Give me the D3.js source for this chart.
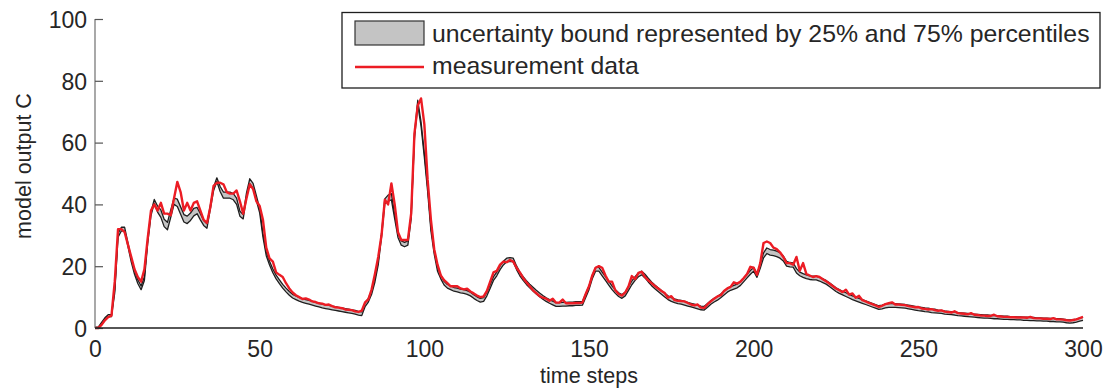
<!DOCTYPE html>
<html>
<head>
<meta charset="utf-8">
<script src="https://cdn.jsdelivr.net/npm/d3@7"></script>
<style>
  html, body { margin: 0; padding: 0; background: #fff; }
  svg { display: block; font-family: "Liberation Sans", Arial, Helvetica, sans-serif; }
</style>
</head>
<body>
<svg id="chart" width="1104" height="389"></svg>
<script>
// 25% percentile of the model output at each time step
const lower = [
  0, 0, 1.2, 2.7, 3.7, 3.7, 11.4, 29.4, 31.4, 31.4,
  26.4, 21.4, 17.4, 14.4, 12.4, 15.4, 27.4, 36.4, 40.4, 37.5,
  35.8, 32.8, 31.8, 35.8, 40, 39.3, 36.8, 34.3, 33.8, 34.8,
  36.3, 37, 35, 33.2, 32.3, 38.4, 44.4, 47.4, 44.2, 42,
  42, 42, 41.5, 40, 36.2, 35.3, 42.3, 46.7, 45.2, 41.2,
  37.3, 29.4, 23.4, 20.4, 17.9, 15.9, 14.4, 12.9, 11.7, 10.6,
  9.7, 9.2, 8.7, 8.3, 8.0, 7.7, 7.4, 7.1, 6.8, 6.5,
  6.3, 6.1, 5.9, 5.7, 5.5, 5.3, 5.1, 4.9, 4.7, 4.5,
  4.2, 4.0, 6.9, 8.4, 10.9, 14.9, 20.4, 29.4, 40.2, 41,
  41.5, 35.3, 29.3, 26.8, 26.3, 26.8, 35.3, 61.3, 72.3, 65.3,
  55.3, 44.3, 31.4, 23.9, 18.4, 15.9, 13.9, 12.9, 12.4, 11.9,
  11.7, 11.4, 11.2, 10.9, 10.4, 9.6, 8.9, 8.4, 8.6, 10.4,
  12.9, 15.4, 16.9, 18.9, 20.4, 21.4, 21.6, 21.4, 18.9, 16.9,
  15.4, 14.1, 13.0, 12.0, 11.0, 10.1, 9.3, 8.6, 8.0, 7.5,
  7.0, 7.0, 7.1, 7.1, 7.2, 7.2, 7.3, 7.3, 7.4, 9.9,
  12.4, 15.9, 18.4, 18.4, 16.9, 15.4, 13.9, 12.4, 11.2, 10.2,
  9.6, 10.4, 12.2, 14.0, 15.4, 16.6, 17.2, 16.2, 14.9, 13.7,
  12.7, 11.8, 10.9, 10.0, 9.2, 8.6, 8.2, 7.9, 7.7, 7.4,
  7.1, 6.8, 6.5, 6.2, 5.9, 5.8, 6.7, 7.7, 8.4, 9.0,
  9.8, 10.7, 11.6, 12.2, 12.6, 13.0, 13.8, 15.0, 16.2, 17.4,
  18.4, 16.4, 19.3, 22.7, 24.1, 23.6, 23.4, 23.1, 22.6, 21.7,
  20.0, 19.8, 19.7, 17.8, 16.9, 16.4, 16.0, 15.7, 15.6, 15.6,
  15.2, 14.7, 14.2, 13.4, 12.6, 11.8, 11.2, 10.7, 10.2, 9.7,
  9.2, 8.8, 8.4, 8.0, 7.6, 7.2, 6.8, 6.4, 6.0, 6.2,
  6.5, 6.7, 6.7, 6.7, 6.6, 6.5, 6.4, 6.2, 6.0, 5.8,
  5.6, 5.5, 5.3, 5.2, 5.0, 4.9, 4.8, 4.7, 4.5, 4.4,
  4.3, 4.2, 4.0, 3.9, 3.8, 3.7, 3.6, 3.5, 3.4, 3.3,
  3.2, 3.2, 3.1, 3.0, 3.0, 2.9, 2.8, 2.8, 2.7, 2.7,
  2.6, 2.6, 2.5, 2.5, 2.4, 2.4, 2.3, 2.3, 2.2, 2.2,
  2.1, 2.1, 2.0, 2.0, 1.9, 1.7, 1.6, 1.7, 1.9, 2.2, 2.5
];

// 75% percentile of the model output at each time step
const upper = [
  0.3, 0.3, 1.8, 3.3, 4.3, 4.3, 12.6, 30.6, 32.6, 32.6,
  27.6, 22.6, 18.6, 15.6, 13.6, 16.6, 28.6, 37.6, 41.6, 39.5,
  38.2, 35.2, 34.2, 38.2, 42, 41.7, 39.2, 36.7, 36.2, 37.2,
  38.7, 39, 37, 34.8, 33.7, 39.6, 45.6, 48.6, 45.8, 44,
  44, 44, 43.5, 42, 37.8, 36.7, 43.7, 48.3, 46.8, 42.8,
  38.7, 30.6, 24.6, 21.6, 19.1, 17.1, 15.6, 14.1, 12.9, 11.8,
  10.9, 10.4, 9.9, 9.5, 9.2, 8.9, 8.6, 8.3, 8.0, 7.7,
  7.5, 7.3, 7.1, 6.9, 6.7, 6.5, 6.3, 6.1, 5.9, 5.7,
  5.4, 5.2, 8.1, 9.6, 12.1, 16.1, 21.6, 30.6, 41.8, 43,
  43.5, 36.7, 30.7, 28.2, 27.7, 28.2, 36.7, 62.7, 73.7, 66.7,
  56.7, 45.7, 32.6, 25.1, 19.6, 17.1, 15.1, 14.1, 13.6, 13.1,
  12.9, 12.6, 12.4, 12.1, 11.6, 10.8, 10.1, 9.6, 9.8, 11.6,
  14.1, 16.6, 18.1, 20.1, 21.6, 22.6, 22.8, 22.6, 20.1, 18.1,
  16.6, 15.3, 14.2, 13.2, 12.2, 11.3, 10.5, 9.8, 9.2, 8.7,
  8.2, 8.2, 8.3, 8.3, 8.4, 8.4, 8.5, 8.5, 8.6, 11.1,
  13.6, 17.1, 19.6, 19.6, 18.1, 16.6, 15.1, 13.6, 12.4, 11.4,
  10.8, 11.6, 13.4, 15.2, 16.6, 17.8, 18.4, 17.4, 16.1, 14.9,
  13.9, 13.0, 12.1, 11.2, 10.4, 9.8, 9.4, 9.1, 8.9, 8.6,
  8.3, 8.0, 7.7, 7.4, 7.1, 7.0, 7.9, 8.9, 9.6, 10.2,
  11.0, 11.9, 12.8, 13.4, 13.8, 14.2, 15.0, 16.2, 17.4, 18.6,
  19.6, 17.6, 20.7, 24.3, 25.9, 25.4, 25.2, 24.9, 24.4, 23.3,
  21.6, 21.2, 21.1, 19.2, 18.1, 17.6, 17.2, 16.9, 16.8, 16.8,
  16.4, 15.9, 15.4, 14.6, 13.8, 13.0, 12.4, 11.9, 11.4, 10.9,
  10.4, 10.0, 9.6, 9.2, 8.8, 8.4, 8.0, 7.6, 7.2, 7.4,
  7.7, 7.9, 7.9, 7.9, 7.8, 7.7, 7.6, 7.4, 7.2, 7.0,
  6.8, 6.7, 6.5, 6.4, 6.2, 6.1, 5.8, 5.7, 5.5, 5.4,
  5.3, 5.2, 5.0, 4.9, 4.8, 4.7, 4.6, 4.5, 4.4, 4.3,
  4.2, 4.2, 4.1, 4.0, 4.0, 3.9, 3.8, 3.8, 3.7, 3.7,
  3.6, 3.6, 3.5, 3.5, 3.4, 3.4, 3.3, 3.3, 3.2, 3.2,
  3.1, 3.1, 3.0, 3.0, 2.9, 2.7, 2.6, 2.7, 2.9, 3.2, 3.5
];

// Observed values at each time step
const measured = [
  0, 0, 1, 2.5, 3.5, 4, 15, 32, 32, 31,
  27, 23, 19, 16.5, 15, 19, 29, 38, 40, 38,
  40.5, 37, 37, 36.5, 42, 47.3, 44, 38, 40.5, 38,
  40.5, 41, 38, 35, 34, 39, 46, 47, 47, 46.5,
  44, 43.5, 43.5, 44.5, 41, 37, 42, 46.5, 45, 41,
  39.5, 35, 26, 22.5, 21.5, 18, 17.2, 16.5, 14.5, 12.8,
  11.5, 10.6, 10, 9.4, 9.6, 9.2, 8.6, 8.4, 8.0, 7.9,
  7.5, 7.6, 7.1, 6.7, 6.6, 6.4, 6.0, 5.9, 5.8, 5.4,
  5.2, 5.6, 8.3, 9.3, 12.5, 17.5, 23, 30, 41.5, 40,
  46.8, 40, 31, 28.5, 28.5, 28.5, 37, 63, 72, 74.3,
  66, 48, 35, 25.5, 20.5, 17, 15.5, 14.5, 13.5, 13.5,
  13.5, 12.8, 12.5, 12.7, 11.8, 11.2, 10.5, 10.0, 10.2, 12,
  15, 18, 18.5, 20.5, 21.5, 21.3, 22, 21.5, 19.5, 18,
  16.2, 14.8, 13.5, 12.2, 11.3, 10.3, 9.8, 9.5, 8.8, 9.5,
  8.2, 8.2, 9.2, 8.0, 8.0, 8.0, 8.1, 8.1, 8.2, 11,
  13.5, 17, 19.5, 20, 19.5, 17, 15, 15, 12.2, 11,
  10.5, 11.5, 13.5, 16.8, 15.8, 17.8, 18.2, 16.5, 15.4, 14.5,
  13.6, 12.8, 12, 11.3, 9.8, 10.3, 9, 8.8, 8.7, 8.6,
  8.1, 7.6, 7.3, 7.6, 6.6, 6.5, 7.7, 8.6, 9.5, 10.2,
  10.6, 12, 12.8, 13.3, 14.8, 14.4, 15, 16.2, 17.5, 19.8,
  19.5, 17.2, 21, 27.5, 28, 27.5, 26, 25.5, 24.5, 23,
  21, 21, 20.5, 23, 18.5, 21, 17.5, 17, 16.5, 16.8,
  16.5, 15.8, 15.1, 14.4, 13.6, 12.8, 12.2, 11.6, 12.4, 10.8,
  11.2, 9.8, 10.4, 9.0, 8.6, 8.1, 7.7, 7.3, 6.8, 7.2,
  7.7, 8.0, 8.3, 7.6, 7.6, 7.5, 7.4, 7.1, 6.9, 6.7,
  6.8, 6.3, 6.2, 6.0, 6.1, 5.8, 5.6, 5.7, 5.3, 5.2,
  5.0, 5.4, 4.8, 4.7, 4.6, 4.4, 4.8, 4.3, 4.2, 4.0,
  4.0, 3.9, 3.9, 4.3, 3.8, 3.7, 3.6, 3.6, 3.5, 3.5,
  3.4, 3.4, 3.4, 3.3, 3.6, 3.2, 3.1, 3.1, 3.0, 3.0,
  2.9, 3.2, 2.8, 2.8, 2.7, 2.5, 2.4, 2.6, 2.8, 3.2, 3.6
];

const xTicks = [0, 50, 100, 150, 200, 250, 300];
const yTicks = [0, 20, 40, 60, 80, 100];
const legendLabels = [
  "uncertainty bound represented by 25% and 75% percentiles",
  "measurement data"
];
const xTitle = "time steps";
const yTitle = "model output C";

const svg = d3.select("#chart");
const textColor = "#262626";

const x = d3.scaleLinear().domain([0, 300]).range([95, 1083]);
const y = d3.scaleLinear().domain([0, 100]).range([328, 19]);

const steps = d3.range(measured.length);

// uncertainty band
const band = d3.area()
  .x(i => x(i))
  .y0(i => y(lower[i]))
  .y1(i => y(upper[i]));

svg.append("path")
  .datum(steps)
  .attr("d", band)
  .attr("fill", "#c4c4c4")
  .attr("stroke", "none");

const edge = arr => d3.line().x(i => x(i)).y(i => y(arr[i]));

[lower, upper].forEach(arr => {
  svg.append("path")
    .datum(steps)
    .attr("d", edge(arr))
    .attr("fill", "none")
    .attr("stroke", "#1e1e1e")
    .attr("stroke-width", 1.3)
    .attr("stroke-linejoin", "round");
});

// measurement line
svg.append("path")
  .datum(steps)
  .attr("d", edge(measured))
  .attr("fill", "none")
  .attr("stroke", "#ec1c24")
  .attr("stroke-width", 2.4)
  .attr("stroke-linejoin", "round");

// y axis
const yAxis = svg.append("g").attr("transform", "translate(95,0)")
  .call(d3.axisLeft(y).tickValues(yTicks).tickSize(-8).tickPadding(8).tickFormat(d3.format("d")));
yAxis.select(".domain").attr("stroke", "#7a7a7a").attr("stroke-width", 1.3).attr("d", "M0,19V328");
yAxis.selectAll(".tick line").attr("stroke", "#555").attr("stroke-width", 1.2);
yAxis.selectAll(".tick text")
  .attr("fill", textColor)
  .attr("font-size", 23)
  .attr("font-family", "Liberation Sans, Arial, sans-serif")
  .attr("dy", "0.36em");

// x axis
const xAxis = svg.append("g").attr("transform", "translate(0,328)")
  .call(d3.axisBottom(x).tickValues(xTicks).tickSize(0).tickPadding(13).tickFormat(d3.format("d")));
xAxis.select(".domain").attr("stroke", "#1e1e1e").attr("stroke-width", 1.3).attr("d", "M95,0H1083");
xAxis.selectAll(".tick text")
  .attr("fill", textColor)
  .attr("font-size", 23)
  .attr("font-family", "Liberation Sans, Arial, sans-serif");

// axis titles
svg.append("text")
  .attr("x", 589)
  .attr("y", 383)
  .attr("text-anchor", "middle")
  .attr("fill", textColor)
  .attr("font-size", 21.5)
  .text(xTitle);

svg.append("text")
  .attr("transform", "translate(31,166) rotate(-90)")
  .attr("text-anchor", "middle")
  .attr("fill", textColor)
  .attr("font-size", 21.5)
  .text(yTitle);

// legend
const legend = svg.append("g");
legend.append("rect")
  .attr("x", 342).attr("y", 12.5)
  .attr("width", 758).attr("height", 75.5)
  .attr("fill", "#fff")
  .attr("stroke", "#1e1e1e")
  .attr("stroke-width", 1.3);
legend.append("rect")
  .attr("x", 355).attr("y", 21)
  .attr("width", 69).attr("height", 24)
  .attr("fill", "#c4c4c4")
  .attr("stroke", "#333")
  .attr("stroke-width", 1.2);
legend.append("line")
  .attr("x1", 355).attr("x2", 424)
  .attr("y1", 67).attr("y2", 67)
  .attr("stroke", "#ec1c24")
  .attr("stroke-width", 2.4);
legend.selectAll("text.lab")
  .data(legendLabels)
  .join("text")
  .attr("class", "lab")
  .attr("x", 432)
  .attr("y", (d, i) => i === 0 ? 42 : 74)
  .attr("fill", textColor)
  .attr("font-size", 24.8)
  .text(d => d);
</script>
</body>
</html>
